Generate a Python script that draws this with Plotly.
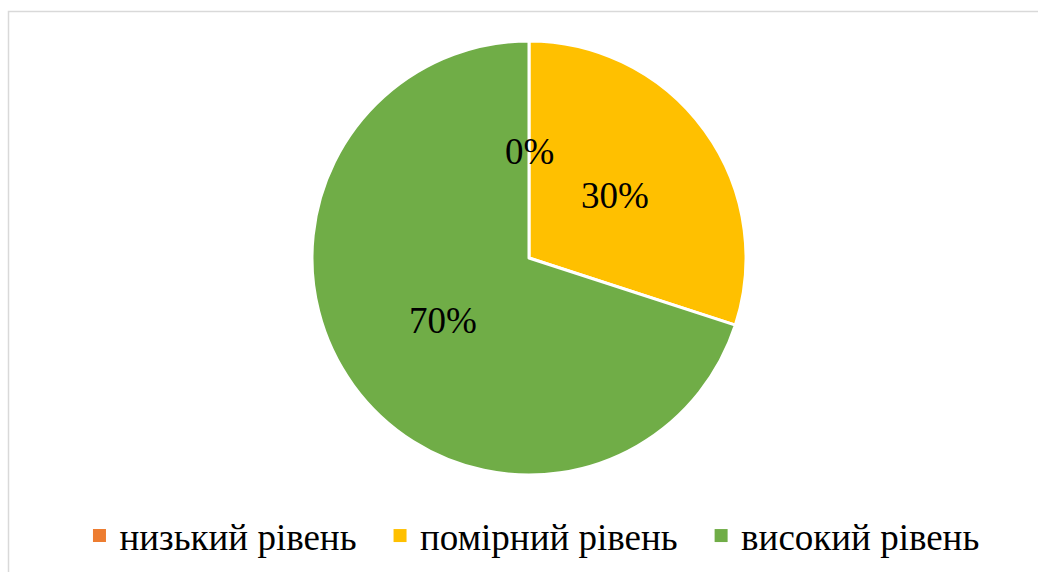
import plotly.graph_objects as go
import math

categories = ["низький рівень", "помірний рівень", "високий рівень"]
values = [0, 30, 70]
colors = ["#ED7D31", "#FFC000", "#70AD47"]

W, H = 1038, 572
cx, cy, R = 529, 258, 217
FONT = "Liberation Serif"

fig = go.Figure()
fig.add_trace(go.Pie(
    labels=categories,
    values=values,
    sort=False,
    direction="clockwise",
    rotation=0,
    marker=dict(colors=colors, line=dict(color="white", width=3)),
    textinfo="none",
    hoverinfo="label+percent",
    showlegend=False,
    domain=dict(x=[(cx - R) / W, (cx + R) / W], y=[1 - (cy + R) / H, 1 - (cy - R) / H]),
))

# legend entries (square swatches) for each category
for i, (cat, col) in enumerate(zip(categories, colors)):
    pad = "\u00a0\u00a0" if i < len(categories) - 1 else ""
    fig.add_trace(go.Scatter(
        x=[None], y=[None], mode="markers", name=cat + pad,
        marker=dict(symbol="square", size=13, color=col, line=dict(width=0)),
        hoverinfo="skip",
    ))

total = sum(values)
cum = 0
for v in values:
    mid = (cum + v / 2) / total * 2 * math.pi
    cum += v
    px = cx + 0.49 * R * math.sin(mid)
    py = cy - 0.49 * R * math.cos(mid)
    fig.add_annotation(
        x=px / W, y=1 - py / H, xref="paper", yref="paper",
        text=f"{round(v / total * 100)}%", showarrow=False,
        font=dict(family=FONT, size=37, color="black"),
        xanchor="center", yanchor="middle",
    )

fig.add_shape(type="rect", xref="paper", yref="paper",
              x0=8.5 / W, x1=1.5, y0=-0.5, y1=1 - 11.5 / H,
              line=dict(color="#D9D9D9", width=1.5), fillcolor="rgba(0,0,0,0)")

fig.update_layout(
    width=W, height=H,
    margin=dict(l=0, r=0, t=0, b=0),
    paper_bgcolor="white",
    plot_bgcolor="white",
    xaxis=dict(visible=False),
    yaxis=dict(visible=False),
    showlegend=True,
    legend=dict(
        orientation="h", x=0.5125, xanchor="center", y=1 - 536 / H, yanchor="middle",
        font=dict(family=FONT, size=37, color="black"),
        itemclick=False, traceorder="normal",
    ),
)

fig.write_html("out.html", config={"displayModeBar": False},
               post_script="document.body.style.margin='0';document.body.style.overflow='hidden';")
